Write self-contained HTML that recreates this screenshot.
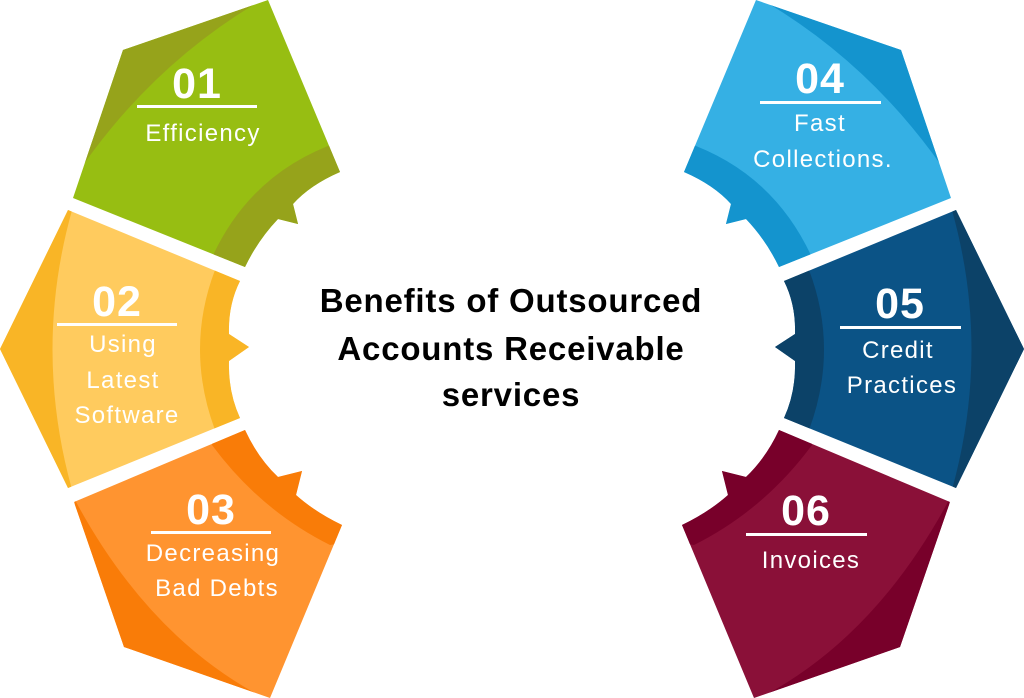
<!DOCTYPE html>
<html><head><meta charset="utf-8"><style>
html,body{margin:0;padding:0;background:#fff;width:1024px;height:698px;overflow:hidden}
svg{display:block}
text{font-family:"Liberation Sans",sans-serif;fill:#fff;text-anchor:middle}
.n{font-weight:bold;font-size:43px;letter-spacing:1px}
.l{font-size:24px;letter-spacing:1.3px}
.t{fill:#000;font-weight:bold;font-size:33px;letter-spacing:0.8px}
#g1{--a:#97BE12;--b:#96A31B;--c:#FFCB5E;--d:#F9B526;--e:#FF9430;--f:#F97C08}
#g2{--a:#35B0E4;--b:#1494CE;--c:#0B5386;--d:#0C4268;--e:#8A1038;--f:#78002A}
</style></head><body>
<svg width="1024" height="698" viewBox="0 0 1024 698">
<defs>
<clipPath id="c1"><path d="M123,50 L268,0 L340,172 Q310,185 293,204 L298,224 L278,219 Q258,240 245,267 L73,198 Z"/></clipPath>
<clipPath id="c2"><path d="M68,210 L240,281 Q228,305 229,334 L249,347 L229,361 Q228,392 240,418 L68,488 L0,349 Z"/></clipPath>
<clipPath id="c3"><path d="M74,502 L245,430 Q258,458 278,477 L302,471 L296,495 Q315,512 342,525 L270,698 L124,647 Z"/></clipPath>
<g id="left">
<g clip-path="url(#c1)">
<rect x="0" y="0" width="360" height="280" style="fill:var(--a)"/>
<path d="M60,200 Q140,70 265,-2 L100,0 Z" style="fill:var(--b)"/>
<path d="M345,140 Q250,170 210,262 L260,290 L360,200 Z" style="fill:var(--b)"/>
</g>
<g clip-path="url(#c2)">
<rect x="0" y="200" width="260" height="300" style="fill:var(--c)"/>
<path d="M75,200 Q30,349 75,500 L-5,500 L-5,200 Z" style="fill:var(--d)"/>
<path d="M215,270 Q185,349 215,430 L260,430 L260,270 Z" style="fill:var(--d)"/>
</g>
<g clip-path="url(#c3)">
<rect x="0" y="420" width="360" height="290" style="fill:var(--e)"/>
<path d="M75,500 Q150,640 268,700 L60,700 Z" style="fill:var(--f)"/>
<path d="M212,445 Q260,510 330,545 L360,540 L360,420 L212,420 Z" style="fill:var(--f)"/>
</g>
</g>
</defs>
<g id="g1"><use href="#left"/></g>
<g id="g2" transform="translate(1024,0) scale(-1,1)"><use href="#left"/></g>

<text class="n" x="197" y="98">01</text>
<rect x="137" y="105" width="120" height="3" fill="#fff"/>
<text class="l" x="203" y="141">Efficiency</text>

<text class="n" x="117" y="316">02</text>
<rect x="57" y="323" width="120" height="3" fill="#fff"/>
<text class="l" x="123" y="352">Using</text>
<text class="l" x="123" y="388">Latest</text>
<text class="l" x="127" y="423">Software</text>

<text class="n" x="211" y="524">03</text>
<rect x="151" y="531" width="120" height="3" fill="#fff"/>
<text class="l" x="213" y="561">Decreasing</text>
<text class="l" x="217" y="596">Bad Debts</text>

<text class="n" x="820" y="93">04</text>
<rect x="760" y="101" width="121" height="3" fill="#fff"/>
<text class="l" x="820" y="131">Fast</text>
<text class="l" x="823" y="167">Collections.</text>

<text class="n" x="900" y="318">05</text>
<rect x="840" y="326" width="121" height="3" fill="#fff"/>
<text class="l" x="898" y="358">Credit</text>
<text class="l" x="902" y="393">Practices</text>

<text class="n" x="806" y="525">06</text>
<rect x="746" y="533" width="121" height="3" fill="#fff"/>
<text class="l" x="811" y="568">Invoices</text>

<text class="t" x="511" y="312">Benefits of Outsourced</text>
<text class="t" x="511" y="360">Accounts Receivable</text>
<text class="t" x="511" y="406">services</text>
</svg>
</body></html>
